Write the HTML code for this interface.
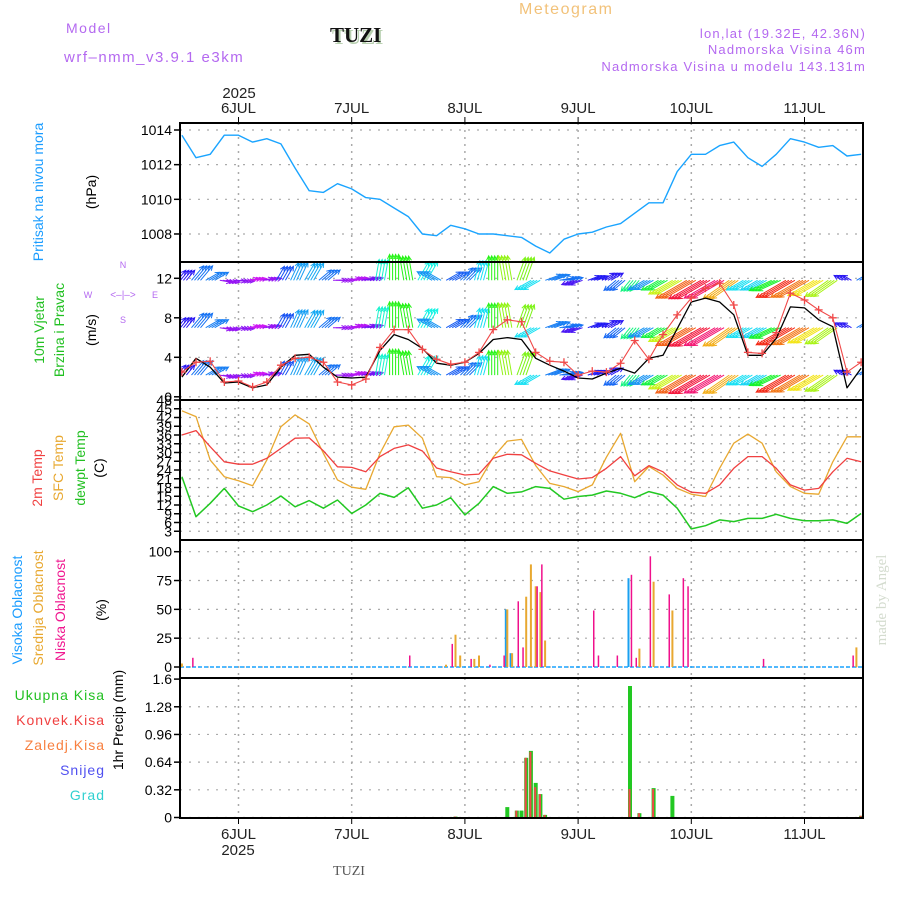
<!DOCTYPE html>
<html><head><meta charset="utf-8"><style>
html,body{margin:0;padding:0;background:#fff;}
svg{display:block;font-family:"Liberation Sans",sans-serif;}
</style></head><body>
<svg id="chart" width="900" height="900" viewBox="0 0 900 900" xmlns="http://www.w3.org/2000/svg">
<rect width="900" height="900" fill="#fff"/>
<text x="66" y="33" font-size="14" fill="#b469f0" letter-spacing="1.5">Model</text>
<text x="64" y="62" font-size="15" fill="#b469f0" letter-spacing="1.5">wrf–nmm_v3.9.1 e3km</text>
<text x="332" y="44" font-size="21" font-weight="bold" fill="#b8d0b0" font-family="Liberation Serif,serif">TUZI</text>
<text x="330" y="42" font-size="21" font-weight="bold" fill="#111" font-family="Liberation Serif,serif">TUZI</text>
<text x="519" y="14" font-size="16" fill="#f2c27a" letter-spacing="1.5">Meteogram</text>
<text x="866" y="38" font-size="13" fill="#b469f0" text-anchor="end" letter-spacing="1.2">lon,lat (19.32E, 42.36N)</text>
<text x="866" y="54" font-size="13" fill="#b469f0" text-anchor="end" letter-spacing="1.2">Nadmorska Visina 46m</text>
<text x="866" y="71" font-size="13" fill="#b469f0" text-anchor="end" letter-spacing="1.2">Nadmorska Visina u modelu 143.131m</text>
<text x="239" y="98" font-size="15" fill="#222" text-anchor="middle">2025</text>
<text x="238" y="855" font-size="15" fill="#222" text-anchor="middle">2025</text>
<text x="349" y="875" font-size="14" fill="#555" text-anchor="middle" font-family="Liberation Serif,serif">TUZI</text>
<text transform="translate(886,600) rotate(-90)" font-size="15" fill="#d4dccf" text-anchor="middle" font-family="Liberation Serif,serif">made by Angel</text>

<text transform="translate(43,192) rotate(-90)" font-size="14" fill="#1a9cff" text-anchor="middle">Pritisak na nivou mora</text>
<text transform="translate(96,192) rotate(-90)" font-size="14" fill="#000" text-anchor="middle">(hPa)</text>
<text transform="translate(44,330) rotate(-90)" font-size="14" fill="#22c022" text-anchor="middle">10m Vjetar</text>
<text transform="translate(64,330) rotate(-90)" font-size="14" fill="#22c022" text-anchor="middle">Brzina i Pravac</text>
<text transform="translate(96,330) rotate(-90)" font-size="14" fill="#000" text-anchor="middle">(m/s)</text>
<g font-size="9" fill="#b469f0" text-anchor="middle">
<text x="123" y="268">N</text><text x="123" y="323">S</text><text x="88" y="298">W</text><text x="155" y="298">E</text>
<text x="123" y="298" font-size="10">&lt;–|–&gt;</text>
</g>
<text transform="translate(42,478) rotate(-90)" font-size="14" fill="#f04040" text-anchor="middle">2m Temp</text>
<text transform="translate(63,468) rotate(-90)" font-size="14" fill="#e8a830" text-anchor="middle">SFC Temp</text>
<text transform="translate(85,468) rotate(-90)" font-size="14" fill="#22c022" text-anchor="middle">dewpt Temp</text>
<text transform="translate(104,468) rotate(-90)" font-size="14" fill="#000" text-anchor="middle">(C)</text>
<text transform="translate(22,610) rotate(-90)" font-size="14" fill="#1a9cff" text-anchor="middle">Visoka Oblacnost</text>
<text transform="translate(43,608) rotate(-90)" font-size="14" fill="#e8a830" text-anchor="middle">Srednja Oblacnost</text>
<text transform="translate(65,610) rotate(-90)" font-size="14" fill="#f01890" text-anchor="middle">Niska Oblacnost</text>
<text transform="translate(106,610) rotate(-90)" font-size="14" fill="#000" text-anchor="middle">(%)</text>
<g font-size="14" text-anchor="end" letter-spacing="1">
<text x="105" y="700" fill="#22c022">Ukupna  Kisa</text>
<text x="105" y="725" fill="#f04040">Konvek.Kisa</text>
<text x="105" y="750" fill="#f88040">Zaledj.Kisa</text>
<text x="105" y="775" fill="#5050f0">Snijeg</text>
<text x="105" y="800" fill="#30d0d0">Grad</text>
</g>
<text transform="translate(123,720) rotate(-90)" font-size="14" fill="#000" text-anchor="middle">1hr Precip (mm)</text>
<g id="grid"></g>
<g id="marks"></g>
<g id="frames"></g>
</svg>
<script>
// time axis (hours since 6 Jul 00:00)
const dayHours=[0,24,48,72,96,120];
const dayLabels=["6JUL","7JUL","8JUL","9JUL","10JUL","11JUL"];
const times3h=[-12,-9,-6,-3,0,3,6,9,12,15,18,21,24,27,30,33,36,39,42,45,48,51,54,57,60,63,66,69,72,75,78,81,84,87,90,93,96,99,102,105,108,111,114,117,120,123,126,129,132];
// pressure (hPa)
const pressure=[1013.7,1012.4,1012.6,1013.7,1013.7,1013.3,1013.5,1013.2,1011.8,1010.5,1010.4,1010.9,1010.6,1010.1,1010.0,1009.5,1009.0,1008.0,1007.9,1008.5,1008.3,1008.0,1008.0,1007.9,1007.8,1007.3,1006.9,1007.7,1008.0,1008.1,1008.4,1008.6,1009.2,1009.8,1009.8,1011.6,1012.6,1012.6,1013.1,1013.3,1012.4,1011.9,1012.6,1013.5,1013.3,1013.0,1013.1,1012.5,1012.6];
const pressureTicks=[1008,1010,1012,1014];
// wind
const windSpeed=[2.0,3.9,3.0,1.4,1.5,0.9,1.2,3.0,4.2,4.3,3.0,2.0,1.9,2.0,4.7,6.3,5.8,4.9,3.4,3.2,3.5,4.4,5.8,6.0,5.8,3.9,3.2,2.6,1.9,1.8,2.4,2.9,2.4,3.9,4.2,6.9,9.6,10.0,9.6,8.3,4.2,4.2,5.9,9.1,9.0,7.8,7.1,0.9,2.9];
const windGust=[2.5,3.5,3.6,1.5,1.6,1.0,1.5,3.2,3.9,4.0,3.5,1.5,1.2,1.8,5.0,6.8,6.8,4.8,3.8,3.3,3.5,4.5,6.8,7.8,7.6,4.5,3.6,3.5,2.2,2.6,2.5,3.4,5.7,3.8,6.3,8.3,10.0,11.0,11.5,9.3,4.5,4.4,6.5,10.5,9.8,8.8,8.0,2.5,3.5];
const windDir=[40,40,60,100,95,80,80,30,25,30,50,90,80,80,10,0,350,30,300,60,45,15,0,350,20,240,70,80,250,70,60,230,220,240,240,240,240,240,240,235,240,240,245,240,240,240,235,300,60];
const windRows=[11.8,7.0,2.2];
const windTicks=[0,4,8,12];
// temperature (C)
const temp2m=[36,37.5,32,26.8,26,26,28,31.4,34.9,35,30.6,25.1,24.9,23.4,28.6,31.4,32.6,30.5,24.7,23.4,22.3,22.6,28,29.4,29.2,26.3,23.7,22.3,20.9,21.4,24.6,28.6,22,25.5,23.4,18.9,16.4,16,18.9,24.6,28.6,28.6,24.6,18.9,17.1,17.7,23.4,28,26.8];
const tempSfc=[44.3,42.3,27.4,21.7,20.3,18.6,27.4,38.8,42.9,39.8,29.7,20.6,18.1,17.4,29.7,38.8,39.4,34.9,21.7,21.4,18.9,20,28.4,33.9,34.5,25.5,19.4,18.3,16.6,18.9,28.4,36.6,20,25.2,22.3,17.7,15.7,14.9,24.6,33.2,36.3,33.2,23.4,18.3,16,15.7,26.8,35.4,35.4];
const tempDew=[21.7,8,12.6,17.7,11.7,9.7,12,15.1,11.4,13.5,10.9,13.7,9.1,12,16,14.6,17.9,10.9,12,14.5,8.6,12.6,18.3,16,16.5,18.3,17.7,14,14.9,15.4,16.8,16,14.5,16.6,15.4,10.9,3.8,4.9,6.9,6.3,7.4,7.4,8.8,7.4,6.6,6.6,6.9,5.7,9.1];
const tempTicks=[3,6,9,12,15,18,21,24,27,30,33,36,39,42,45,48];
// cloud cover (%)
const highTimes=[57,58,83];
const highVals=[50,12,77];
const midTimes=[-12,44,46,47,50,51,57,58,61,62,63,64,65,85,88,92,131];
const midVals=[3,2,28,10,7,10,50,12,61,89,70,65,23,16,74,49,17];
const lowTimes=[-10,36,45,49,53,56,59,60,63,64,75,76,80,83,84,87,91,94,95,111,130];
const lowVals=[8,10,20,7,2,10,57,17,70,89,49,10,10,80,8,96,63,77,70,7,10];
const cloudTicks=[0,25,50,75,100];
// precipitation (mm/h)
const precipTimes=[46,57,59,60,61,62,63,64,65,83,85,88,92,132];
const precipTotal=[0.01,0.12,0.08,0.08,0.69,0.77,0.40,0.27,0.03,1.52,0.05,0.34,0.25,0.02];
const precipConv=[0.01,0.0,0.08,0.0,0.69,0.76,0.35,0.27,0.03,0.33,0.05,0.33,0.0,0.02];
const precipTicks=[0,0.32,0.64,0.96,1.28,1.6];
const precipTickLabels=["0","0.32","0.64","0.96","1.28","1.6"];

const NS="http://www.w3.org/2000/svg";
const L=180,R=863;
const H0=-12.4,H1=132.4;
const xS=h=>L+(h-H0)*(R-L)/(H1-H0);
const yP=v=>130-(v-1014)*17.33;
const yW=v=>396.8-v*9.875;
const yT=v=>540-v*140/48;
const yC=v=>667-v*1.153;
const yR=v=>817.5-v*86.5;
const panels=[[123,262],[262,400],[400,540],[540,678],[678,818]];
const grid=document.getElementById('grid'),marks=document.getElementById('marks'),frames=document.getElementById('frames');
function mk(tag,attrs,parent){const e=document.createElementNS(NS,tag);for(const k in attrs)e.setAttribute(k,attrs[k]);parent.appendChild(e);return e;}
function hgrid(y){const e=mk('line',{x1:L,x2:R,y1:y,y2:y,stroke:'#aaa','stroke-width':1.2,'stroke-dasharray':'2 7'},grid);}
function ylabel(y,t){const e=mk('text',{x:172,y:y+5,'font-size':14,'text-anchor':'end',fill:'#000'},grid);e.textContent=t;
 const tk=mk('line',{x1:L-6,x2:L,y1:y,y2:y,stroke:'#000','stroke-width':1.5},grid);}
dayHours.forEach((h,i)=>{const x=xS(h);
 panels.forEach(p=>{const e=mk('line',{x1:x,x2:x,y1:p[0],y2:p[1],stroke:'#aaa','stroke-width':1.5,'stroke-dasharray':'2 5'},grid);});
 const t1=mk('text',{x:x,y:113,'font-size':15,'text-anchor':'middle',fill:'#222'},grid);t1.textContent=dayLabels[i];
 const t2=mk('text',{x:x,y:839,'font-size':15,'text-anchor':'middle',fill:'#222'},grid);t2.textContent=dayLabels[i];
 const a=mk('line',{x1:x,x2:x,y1:117,y2:123,stroke:'#000'},grid);
 const b=mk('line',{x1:x,x2:x,y1:818,y2:824,stroke:'#000'},grid);
});
pressureTicks.forEach(v=>{hgrid(yP(v));ylabel(yP(v),String(v));});
windTicks.forEach(v=>{hgrid(yW(v));ylabel(yW(v),String(v));});
tempTicks.forEach(v=>{if(v<48)hgrid(yT(v));ylabel(yT(v),String(v));});
cloudTicks.forEach(v=>{hgrid(yC(v));ylabel(yC(v),String(v));});
precipTicks.forEach((v,i)=>{if(i<precipTicks.length-1)hgrid(yR(v));ylabel(yR(v),precipTickLabels[i]);});
function line(ts,vs,yf,color,name,w){const d=ts.map((t,i)=>(i?'L':'M')+xS(t).toFixed(1)+' '+yf(vs[i]).toFixed(1)).join(' ');
 const e=mk('path',{d:d,fill:'none',stroke:color,'stroke-width':w||1.4,'stroke-linejoin':'round'},marks);}
line(times3h,pressure,yP,'#1aa4ff','pressure-line',1.4);
function hue(s){let h=320-30*s;h=((h%360)+360)%360;return 'hsl('+h+',90%,52%)';}
const wg=mk('g',{},marks);
times3h.forEach((t,i)=>{const s=windSpeed[i],d=windDir[i]*Math.PI/180,len=7+3*s,col=hue(windGust[i]);
 windRows.forEach(r=>{[-4.5,-1.5,1.5,4.5].forEach(k=>{const x0=xS(t)+k,y0=yW(r);
  const x1=x0+len*Math.sin(d),y1=y0-len*Math.cos(d);
  const a1=d+Math.PI-0.45,a2=d+Math.PI+0.45;
  const p='M'+x0.toFixed(1)+' '+y0.toFixed(1)+'L'+x1.toFixed(1)+' '+y1.toFixed(1)+'M'+(x1+5*Math.sin(a1)).toFixed(1)+' '+(y1-5*Math.cos(a1)).toFixed(1)+'L'+x1.toFixed(1)+' '+y1.toFixed(1)+'L'+(x1+5*Math.sin(a2)).toFixed(1)+' '+(y1-5*Math.cos(a2)).toFixed(1);
  const e=mk('path',{d:p,stroke:col,'stroke-width':1,fill:'none'},wg);
 });});
});
line(times3h,windSpeed,yW,'#000','wind-speed-line',1.3);
line(times3h,windGust,yW,'#f04848','wind-gust-line',1.1);
times3h.forEach((t,i)=>{const x=xS(t),y=yW(windGust[i]);
 const e=mk('path',{d:`M${x-4} ${y}H${x+4}M${x} ${y-4}V${y+4}`,stroke:'#f04848','stroke-width':1.3},marks);});
line(times3h,tempSfc,yT,'#e8a830','sfc-temp-line',1.3);
line(times3h,temp2m,yT,'#f04040','2m-temp-line',1.3);
line(times3h,tempDew,yT,'#22c822','dewpoint-line',1.5);
function bars(ts,vs,yf,y0,color,off,w,name){ts.forEach((t,i)=>{const x=xS(t)+off,y=yf(vs[i]);
 const e=mk('rect',{x:(x-w/2).toFixed(1),y:y.toFixed(1),width:w,height:Math.max(0,y0-y).toFixed(1),fill:color},marks);});}
const zl=mk('line',{x1:L,x2:R,y1:yC(0),y2:yC(0),stroke:'#1aa4ff','stroke-width':1.5,'stroke-dasharray':'4 2'},marks);
bars(highTimes,highVals,yC,yC(0),'#1aa0f0',-1.5,2,'high-cloud-bar');
bars(midTimes,midVals,yC,yC(0),'#e8a830',0,2,'mid-cloud-bar');
bars(lowTimes,lowVals,yC,yC(0),'#f0108c',1.5,1.5,'low-cloud-bar');
bars(precipTimes,precipTotal,yR,yR(0),'#22c822',0,4,'total-precip-bar');
bars(precipTimes,precipConv,yR,yR(0),'#f04848',-0.5,2,'convective-precip-bar');
const pz=mk('line',{x1:L,x2:R,y1:818,y2:818,stroke:'#000','stroke-width':1.5,'stroke-dasharray':'5 2'},marks);
panels.forEach((p,i)=>{const e=mk('rect',{x:L,y:p[0],width:R-L,height:p[1]-p[0],fill:'none',stroke:'#000','stroke-width':2},frames);});
const cp=mk('clipPath',{id:'plotclip'},document.getElementById('chart'));mk('rect',{x:L,y:123,width:R-L,height:695},cp);
marks.setAttribute('clip-path','url(#plotclip)');
</script>
</body></html>
